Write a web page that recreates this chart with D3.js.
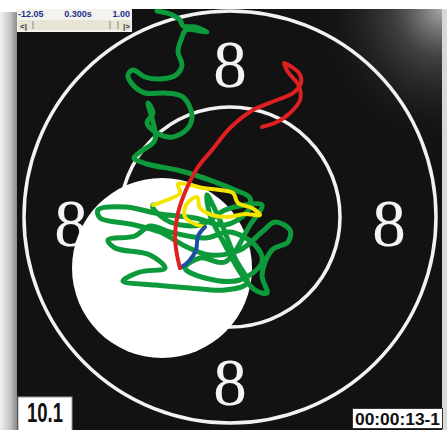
<!DOCTYPE html>
<html>
<head>
<meta charset="utf-8">
<script src="https://cdn.jsdelivr.net/npm/d3@7"></script>
<style>
  body { margin: 0; background: #fff; }
  svg { display: block; }
</style>
</head>
<body>
<div id="chart"></div>
<script>
const width = 447;
const height = 430;

// target geometry (units = offset from target centre, y up)
const ringRadii = [206, 110];
const ringLabels = ["8", "8", "8", "8"];
const labelAngles = [90, 180, 0, 270];
const holeCentre = [-68, -51];
const holeRadius = 90;

// aiming trace
const greenTrace = [
  [-73,206],[-60,203],[-50,197],[-47,191],[-35,190],[-23,185],[-30,186],[-44,187],
  [-49,177],[-52,165],[-48,152],[-54,142],[-70,138],[-85,140],[-97,147],[-102,142],
  [-97,132],[-85,124],[-65,124],[-47,120],[-38,102],[-42,89],[-57,80],[-73,84],
  [-83,94],[-77,104],[-82,114],[-75,77],[-90,65],[-96,59],[-83,53],[-53,47],
  [-35,42],[-15,35],[5,27],[20,19],[17,5],[-5,-8],[-35,-1],[-70,3],[-105,10],
  [-132,7],[-130,-1],[-100,-7],[-70,-15],[-43,-30],[-20,-38],[10,-33],[32,-15],
  [45,-5],[60,-13],[58,-25],[42,-33],[32,-58],[37,-76],[25,-73],[10,-55],[-5,-28],
  [-20,2],[-23,22],[-8,-8],[5,-41],[17,-66],[-5,-73],[-40,-71],[-75,-68],[-107,-64],
  [-90,-55],[-65,-51],[-80,-38],[-115,-31],[-122,-23],[-95,-19],[-80,-9],[-60,-15],
  [-25,-21],[0,-15],[25,-28],[32,-45],[10,-63],[-25,-61],[-45,-51],[-30,-41],
  [-5,-45],[20,-8],[32,12],[15,12],[-5,7],[-30,-8],[-60,-5],[-77,9],[-77,12]
];
const yellowTrace = [
  [-77,12],[-63,17],[-50,24],[-52,33],[-40,32],[-27,29],[-10,27],[3,24],[8,14],
  [22,9],[30,2],[15,3],[-3,0],[-18,2],[-30,9],[-33,20],[-44,12],[-45,0],
  [-35,-7],[-25,-10]
];
const blueTrace = [[-25,-10],[-32,-19],[-34,-33],[-41,-44],[-50,-51]];
const redTrace = [
  [-50,-51],[-53,-38],[-55,-20],[-52,4],[-44,27],[-32,50],[-18,67],[0,89],
  [23,107],[47,117],[63,124],[71,134],[69,144],[60,151],[54,154],[58,145],
  [69,131],[70,117],[60,104],[47,95],[32,90]
];

const infoLabels = ["-12.05", "0.300s", "1.00"];
const shotScore = "10.1";
const shotTime = "00:00:13-1";

const cx = 230, cy = 217;
const x = d3.scaleLinear().domain([-100, 100]).range([cx - 100, cx + 100]);
const y = d3.scaleLinear().domain([-100, 100]).range([cy + 100, cy - 100]);
const k = x(1) - x(0);

const svg = d3.select('#chart')
    .append('svg')
    .attr('width', width)
    .attr('height', height);

const defs = svg.append('defs');
const lg = defs.append('linearGradient').attr('id', 'leftShade');
lg.append('stop').attr('offset', 0).attr('stop-color', '#f2f2f2');
lg.append('stop').attr('offset', 0.6).attr('stop-color', '#c4c4c4');
lg.append('stop').attr('offset', 1).attr('stop-color', '#8a8a8a');

const rg = defs.append('radialGradient').attr('id', 'glow')
    .attr('cx', 1).attr('cy', 0).attr('r', 1);
rg.append('stop').attr('offset', 0).attr('stop-color', '#a8a8a8').attr('stop-opacity', 1);
rg.append('stop').attr('offset', 0.35).attr('stop-color', '#555').attr('stop-opacity', 0.7);
rg.append('stop').attr('offset', 1).attr('stop-color', '#111').attr('stop-opacity', 0);

defs.append('clipPath').attr('id', 'panel')
  .append('rect').attr('x', 17).attr('y', 9).attr('width', 425).attr('height', 421);

// frame
svg.append('rect').attr('width', width).attr('height', height).attr('fill', '#fff');
svg.append('rect').attr('x', 0).attr('y', 12).attr('width', 17).attr('height', height - 12)
    .attr('fill', 'url(#leftShade)');
svg.append('rect').attr('x', 442).attr('y', 9).attr('width', 5).attr('height', height - 9)
    .attr('fill', '#d8d8d8');
svg.append('rect').attr('x', 17).attr('y', 9).attr('width', 425).attr('height', 421)
    .attr('fill', '#121212');
svg.append('rect').attr('x', 310).attr('y', 9).attr('width', 132).attr('height', 140)
    .attr('fill', 'url(#glow)');

const target = svg.append('g').attr('clip-path', 'url(#panel)');

target.selectAll('.ring')
  .data(ringRadii)
  .enter().append('circle')
    .attr('class', 'ring')
    .attr('cx', x(0)).attr('cy', y(0))
    .attr('r', d => d * k)
    .attr('fill', 'none')
    .attr('stroke', '#f2f2f2')
    .attr('stroke-width', 3.5);

const labelR = (ringRadii[0] + ringRadii[1]) / 2 + 1;
target.selectAll('.lbl')
  .data(ringLabels)
  .enter().append('text')
    .attr('class', 'lbl')
    .attr('x', (d, i) => x(labelR * Math.cos(labelAngles[i] * Math.PI / 180)))
    .attr('y', (d, i) => y(labelR * Math.sin(labelAngles[i] * Math.PI / 180) - 6) + 23)
    .attr('text-anchor', 'middle')
    .attr('font-family', '"Liberation Serif", "DejaVu Serif", serif')
    .attr('font-size', 67)
    .attr('fill', '#f4f4f4')
    .text(d => d);

target.append('circle')
    .attr('cx', x(holeCentre[0])).attr('cy', y(holeCentre[1]))
    .attr('r', holeRadius * k)
    .attr('fill', '#fff');

const line = d3.line()
    .x(d => x(d[0]))
    .y(d => y(d[1]))
    .curve(d3.curveCatmullRom.alpha(0.5));

const traces = [
  {pts: greenTrace, color: '#0c9a3a', w: 5},
  {pts: yellowTrace, color: '#f3e500', w: 4},
  {pts: blueTrace, color: '#1c4ea6', w: 4},
  {pts: redTrace, color: '#de2020', w: 4}
];
target.selectAll('.trace')
  .data(traces)
  .enter().append('path')
    .attr('class', 'trace')
    .attr('d', d => line(d.pts))
    .attr('fill', 'none')
    .attr('stroke', d => d.color)
    .attr('stroke-width', d => d.w)
    .attr('stroke-linecap', 'round')
    .attr('stroke-linejoin', 'round');

// info strip top-left
const info = svg.append('g');
info.append('rect').attr('x', 17).attr('y', 9).attr('width', 115).attr('height', 23)
    .attr('fill', '#f5f3ee');
info.selectAll('.info')
  .data(infoLabels)
  .enter().append('text')
    .attr('x', (d, i) => [18, 78, 130][i])
    .attr('y', 17)
    .attr('text-anchor', (d, i) => ['start', 'middle', 'end'][i])
    .attr('font-family', '"Liberation Sans", Arial, sans-serif')
    .attr('font-weight', 'bold')
    .attr('font-size', 9)
    .attr('fill', '#1d2f8f')
    .text(d => d);
info.append('rect').attr('x', 18).attr('y', 20).attr('width', 113).attr('height', 10)
    .attr('fill', '#e9e5d6');
info.append('text').attr('x', 20).attr('y', 28.5)
    .attr('font-family', '"Liberation Sans", Arial, sans-serif').attr('font-size', 8)
    .attr('font-weight', 'bold').attr('fill', '#333').text('<|');
info.append('text').attr('x', 130).attr('y', 28.5).attr('text-anchor', 'end')
    .attr('font-family', '"Liberation Sans", Arial, sans-serif').attr('font-size', 8)
    .attr('font-weight', 'bold').attr('fill', '#333').text('|>');
[33, 110, 118].forEach(px => {
  info.append('line').attr('x1', px).attr('x2', px).attr('y1', 21).attr('y2', 29)
      .attr('stroke', '#888').attr('stroke-width', 1);
});

// score box
svg.append('rect').attr('x', 18).attr('y', 397).attr('width', 54).attr('height', 34)
    .attr('fill', '#fff').attr('stroke', '#999').attr('stroke-width', 1);
svg.append('text').attr('x', 27).attr('y', 422)
    .attr('font-family', '"Liberation Sans", Arial, sans-serif')
    .attr('font-weight', 'bold').attr('font-size', 28)
    .attr('textLength', 36).attr('lengthAdjust', 'spacingAndGlyphs')
    .attr('fill', '#111').text(shotScore);

// time box
svg.append('rect').attr('x', 352.5).attr('y', 408.5).attr('width', 90).attr('height', 20)
    .attr('fill', '#fff').attr('stroke', '#333').attr('stroke-width', 1);
svg.append('text').attr('x', 355).attr('y', 424.5)
    .attr('font-family', '"Liberation Sans", Arial, sans-serif')
    .attr('font-weight', 'bold').attr('font-size', 16)
    .attr('textLength', 85).attr('lengthAdjust', 'spacingAndGlyphs')
    .attr('fill', '#111').text(shotTime);
</script>
</body>
</html>
